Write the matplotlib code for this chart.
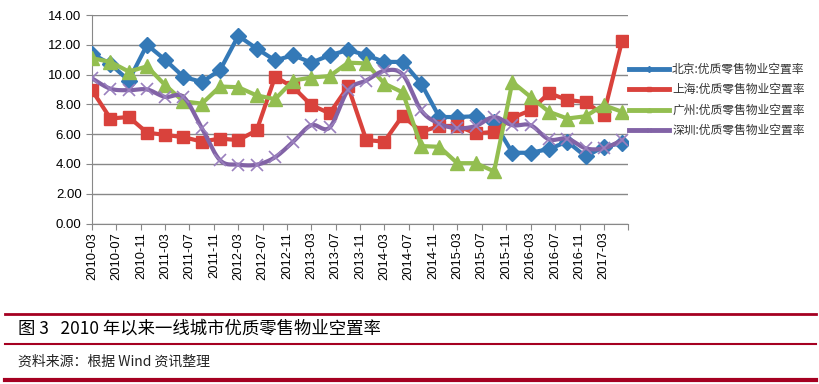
import numpy as np
import pandas as pd
import matplotlib
matplotlib.use('Agg')
import matplotlib.pyplot as plt
import matplotlib.dates as mdates

plt.rcParams['font.family'] = ['Liberation Sans', 'Noto Sans CJK SC', 'DejaVu Sans']

# 季度数据 2010-03 ~ 2017-06
dates = pd.date_range('2010-03-01', '2017-06-01', freq='3MS')

beijing = [11.4, 10.7, 9.6, 12.0, 11.0, 9.85, 9.5, 10.3, 12.6, 11.75,
           10.95, 11.3, 10.8, 11.3, 11.65, 11.3, 10.85, 10.85, 9.4, 7.15,
           7.15, 7.2, 6.8, 4.75, 4.75, 5.0, 5.5, 4.5, 5.15, 5.4]
shanghai = [8.95, 7.05, 7.15, 6.1, 5.95, 5.8, 5.5, 5.7, 5.6, 6.25,
            9.85, 9.15, 7.95, 7.4, 9.2, 5.6, 5.5, 7.25, 6.15, 6.55,
            6.55, 6.05, 6.15, 7.1, 7.6, 8.75, 8.3, 8.15, 7.3, 12.25]
guangzhou = [11.1, 10.85, 10.2, 10.55, 9.3, 8.2, 8.05, 9.2, 9.15, 8.6,
             8.35, 9.6, 9.8, 9.9, 10.8, 10.75, 9.4, 8.8, 5.2, 5.15,
             4.05, 4.05, 3.5, 9.5, 8.5, 7.5, 7.05, 7.2, 7.95, 7.5]
shenzhen = [9.75, 9.05, 8.95, 9.0, 8.5, 8.5, 6.4, 4.25, 3.95, 3.95,
            4.45, 5.5, 6.6, 6.45, 8.95, 9.6, 10.25, 10.0, 7.6, 6.7,
            6.4, 6.55, 7.15, 6.6, 6.6, 5.65, 5.7, 5.05, 5.05, 5.6]

labels = ['北京:优质零售物业空置率', '上海:优质零售物业空置率',
          '广州:优质零售物业空置率', '深圳:优质零售物业空置率']
tick_labels = ['2010-03', '2010-07', '2010-11', '2011-03', '2011-07', '2011-11',
               '2012-03', '2012-07', '2012-11', '2013-03', '2013-07', '2013-11',
               '2014-03', '2014-07', '2014-11', '2015-03', '2015-07', '2015-11',
               '2016-03', '2016-07', '2016-11', '2017-03']

c_blue = '#3479B7'
c_red = '#D9423C'
c_green = '#93BE50'
c_purple = '#8263A6'


def smooth(x, y, n=20):
    # Excel式平滑线(贝塞尔)
    x = np.asarray(x, float)
    y = np.asarray(y, float)
    xs, ys = [], []
    for i in range(len(x) - 1):
        x0, y0 = (x[i - 1], y[i - 1]) if i > 0 else (x[i], y[i])
        x3, y3 = (x[i + 2], y[i + 2]) if i + 2 < len(x) else (x[i + 1], y[i + 1])
        p1 = (x[i] + (x[i + 1] - x0) / 6, y[i] + (y[i + 1] - y0) / 6)
        p2 = (x[i + 1] - (x3 - x[i]) / 6, y[i + 1] - (y3 - y[i]) / 6)
        t = np.linspace(0, 1, n)
        bx = (1-t)**3*x[i] + 3*(1-t)**2*t*p1[0] + 3*(1-t)*t**2*p2[0] + t**3*x[i+1]
        by = (1-t)**3*y[i] + 3*(1-t)**2*t*p1[1] + 3*(1-t)*t**2*p2[1] + t**3*y[i+1]
        xs.extend(bx)
        ys.extend(by)
    return np.array(xs), np.array(ys)


fig = plt.figure(figsize=(8.19, 3.84), dpi=100)
ax = fig.add_axes([92/819, 1-223.5/384, (628-92)/819, (223.5-15)/384])

xd = mdates.date2num(dates)
ax.plot(xd, beijing, color=c_blue, lw=3, marker='D', ms=8.5, zorder=3)
ax.plot(xd, shanghai, color=c_red, lw=3, marker='s', ms=9, zorder=4)
ax.plot(xd, guangzhou, color=c_green, lw=3, marker='^', ms=10, zorder=5)
sx, sy = smooth(xd, shenzhen)
ax.plot(sx, sy, color=c_purple, lw=3, zorder=6)
ax.plot(xd, shenzhen, ls='none', marker='x', ms=9, mew=1.2, color='#9A80BE', zorder=7)

# 图例句柄(只显示粗线)
h1, = ax.plot([], [], color=c_blue, lw=3.5, marker='D', ms=3, label=labels[0])
h2, = ax.plot([], [], color=c_red, lw=3.5, marker='s', ms=3, label=labels[1])
h3, = ax.plot([], [], color=c_green, lw=3.5, marker='^', ms=3, label=labels[2])
h4, = ax.plot([], [], color=c_purple, lw=3.5, marker='x', ms=3, mew=1, label=labels[3])

ax.set_ylim(0, 14)
ax.set_yticks(np.arange(0, 15, 2))
ax.set_yticklabels(['%.2f' % v for v in np.arange(0, 15, 2)], fontsize=9.5)

ticks = pd.date_range('2010-03-01', '2017-07-01', freq='4MS')
ax.set_xlim(mdates.date2num(ticks[0]), mdates.date2num(ticks[-1]))
ax.set_xticks(mdates.date2num(ticks))
ax.set_xticklabels(tick_labels + [''], rotation=90, fontsize=9.3)

ax.grid(axis='y', color='#888888', lw=1)
ax.set_axisbelow(True)
for s in ['top', 'right']:
    ax.spines[s].set_visible(False)
for s in ['left', 'bottom']:
    ax.spines[s].set_color('#888888')
ax.tick_params(axis='both', colors='#888888', length=4, labelcolor='black')
ax.tick_params(axis='x', pad=2)

fig.legend(handles=[h1, h2, h3, h4], loc='upper left',
           bbox_to_anchor=(629/819, 1-63/384), frameon=False,
           prop={'family': ['Noto Sans CJK SC'], 'size': 8.5},
           labelcolor='#333333',
           handlelength=3.4, handletextpad=0.25, labelspacing=0.62,
           borderpad=0, borderaxespad=0)

# 图注
red = '#A50021'
fig.add_artist(plt.Line2D([5/819, 816/819], [1-314/384]*2, color=red, lw=2))
fig.add_artist(plt.Line2D([5/819, 816/819], [1-344/384]*2, color=red, lw=1.5))
fig.add_artist(plt.Line2D([5/819, 816/819], [1-380/384]*2, color=red, lw=3))
fig.text(18/819, 1-329/384, '图 3   2010 年以来一线城市优质零售物业空置率',
         fontsize=12.5, va='center', family=['Noto Sans CJK SC'])
fig.text(18/819, 1-362/384, '资料来源：根据 Wind 资讯整理',
         fontsize=10, va='center', family=['Noto Sans CJK SC'], color='#222222')

fig.savefig('out.png', dpi=100)
